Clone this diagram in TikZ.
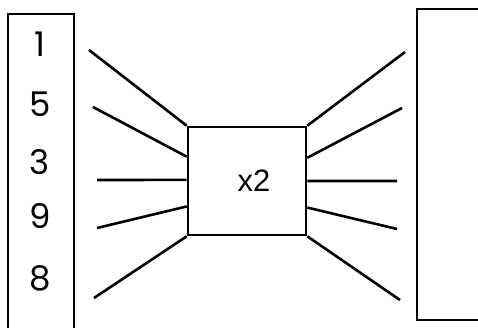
\documentclass[tikz,border=0pt]{standalone}
\usepackage{fontspec}
\setmainfont{Poppins}
\newfontfamily\labfont{Liberation Sans}
\usetikzlibrary{positioning,calc}

\begin{document}
\begin{tikzpicture}[x=1pt, y=-1pt,
  spoke/.style={line width=2.6pt},
  tall/.style={draw, line width=1.7pt, inner sep=0pt},
  digit/.style={font=\fontsize{34}{34}\selectfont, inner sep=0pt},
  multbox/.style={draw, line width=2.6pt, minimum width=118pt, minimum height=108pt, inner sep=0pt}]
  \useasboundingbox (0,0) rectangle (478,327);
  \clip (0,0) rectangle (478,327);
  % side columns
  \node[tall, minimum width=66pt, minimum height=340pt, anchor=north west] (inbox) at (7,13) {};
  \node[tall, minimum width=80pt, minimum height=311pt, anchor=north west] (outbox) at (416,8) {};
  \node[digit] (d1) at (40,44) {1};
  \node[digit] (d5) at (40,104) {5};
  \node[digit] (d3) at (40,162) {3};
  \node[digit] (d9) at (40,216) {9};
  \node[digit] (d8) at (40,278) {8};
  % the multiplier
  \node[multbox] (mult) at (247,181) {};
  \node[font=\labfont\fontsize{31}{31}\selectfont, inner sep=0pt] (multlab) at (254,181) {x2};
  % free ends of the spokes
  \coordinate (l1) at (89,50);
  \coordinate (l2) at (93,107);
  \coordinate (l3) at (97,180);
  \coordinate (l4) at (97,228);
  \coordinate (l5) at (94,298);
  \coordinate (r1) at (405,52);
  \coordinate (r2) at (402,108);
  \coordinate (r3) at (397,181);
  \coordinate (r4) at (397,229);
  \coordinate (r5) at (400,300);
  \draw[spoke] (l1) -- (mult.north west);
  \draw[spoke] (l2) -- ($(mult.north west)!0.28!(mult.south west)$);
  \draw[spoke] (l3) -- ($(mult.north west)!0.49!(mult.south west)$);
  \draw[spoke] (l4) -- ($(mult.north west)!0.73!(mult.south west)$);
  \draw[spoke] (l5) -- (mult.south west);
  \draw[spoke] (mult.north east) -- (r1);
  \draw[spoke] ($(mult.north east)!0.29!(mult.south east)$) -- (r2);
  \draw[spoke] ($(mult.north east)!0.50!(mult.south east)$) -- (r3);
  \draw[spoke] ($(mult.north east)!0.74!(mult.south east)$) -- (r4);
  \draw[spoke] (mult.south east) -- (r5);
\end{tikzpicture}
\end{document}
